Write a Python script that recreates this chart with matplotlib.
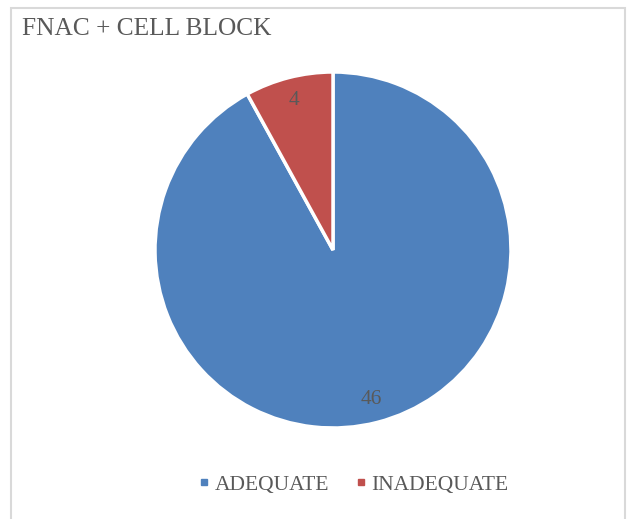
import matplotlib.pyplot as plt
from matplotlib.patches import Rectangle
from matplotlib.lines import Line2D

categories = ['ADEQUATE', 'INADEQUATE']
counts = [46, 4]
colors = ['#4F81BD', '#C0504D']
text_color = '#595959'

plt.rcParams['font.family'] = ['Liberation Serif', 'DejaVu Serif']

W, H = 627, 519
fig = plt.figure(figsize=(W / 100, H / 100), dpi=100)

# chart border (bottom edge runs off the image)
fig.add_artist(Rectangle((11 / W, -0.01), (625 - 11) / W, 1.01 - 8 / H,
                         transform=fig.transFigure, fill=False,
                         edgecolor='#D9D9D9', linewidth=1.5))

fig.text(22 / W, 1 - 29 / H, 'FNAC + CELL BLOCK', fontsize=18.3,
         color=text_color, va='center', ha='left')

# pie centre (333, 250), radius 178 px
r = 178
ax = fig.add_axes([(333 - r) / W, 1 - (250 + r) / H, 2 * r / W, 2 * r / H])
wedges, texts = ax.pie(counts, colors=colors, startangle=90, counterclock=False,
                       labels=[str(c) for c in counts], labeldistance=0.87,
                       wedgeprops=dict(edgecolor='white', linewidth=2.5),
                       textprops=dict(color=text_color, fontsize=15.5))
for t in texts:
    t.set_ha('center')
    t.set_va('center')
ax.set_xlim(-1, 1)
ax.set_ylim(-1, 1)
ax.set_aspect('equal')

handles = [Line2D([], [], marker='s', linestyle='', markersize=5,
                  markerfacecolor=c, markeredgecolor=c) for c in colors]
fig.legend(handles, categories, loc='center', bbox_to_anchor=(352 / W, 1 - 485 / H),
           ncol=2, frameon=False, fontsize=15.5, labelcolor=text_color,
           handletextpad=0.1, columnspacing=1.05, handlelength=0.8)

fig.savefig('out.png', dpi=100)
